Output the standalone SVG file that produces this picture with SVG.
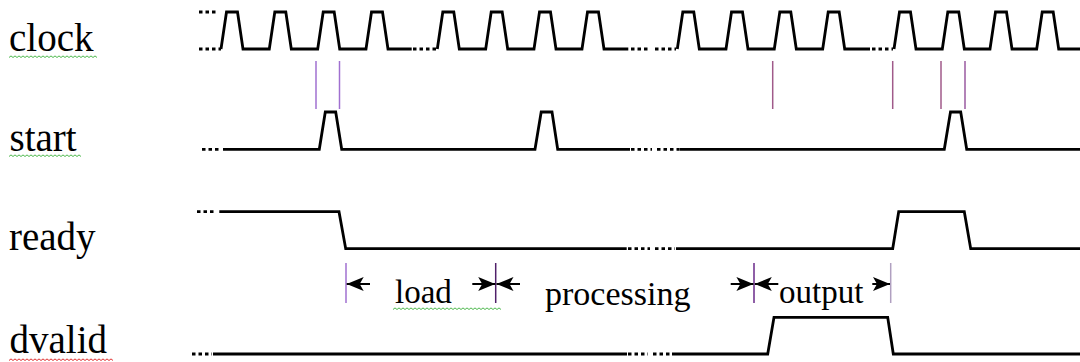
<svg xmlns="http://www.w3.org/2000/svg" width="1080" height="362" viewBox="0 0 1080 362">
<style>
.sig{fill:none;stroke:#000;stroke-width:2.8;stroke-linejoin:miter}
.dots{fill:none;stroke:#000;stroke-width:2.8;stroke-dasharray:3.5 3}
.lbl{font-family:"Liberation Serif","Times New Roman",serif;font-size:39px;fill:#000}
.ann{font-family:"Liberation Serif","Times New Roman",serif;font-size:33px;fill:#000}
.sqg{fill:none;stroke:#4cb84c;stroke-width:1}
.sqr{fill:none;stroke:#e03030;stroke-width:1}
.tick{stroke-width:1.5}
.arr{stroke:#000;stroke-width:2;marker-end:url(#ah)}
</style>
<defs>
<marker id="ah" markerUnits="userSpaceOnUse" viewBox="-18 -8 20 16" refX="0" refY="0" markerWidth="20" markerHeight="16" orient="auto">
<path d="M0,0 L-17,-7 L-13,0 L-17,7 Z" fill="#000"/>
</marker>
</defs>
<rect width="1080" height="362" fill="#fff"/>

<g id="labels">
<text class="lbl" x="9" y="50.7">clock</text>
<text class="lbl" x="9.5" y="150.7">start</text>
<text class="lbl" x="9" y="250">ready</text>
<text class="lbl" x="9.5" y="353">dvalid</text>
<path class="sqg" d="M9,57.5 l2,-1.6 2,1.6 2,-1.6 2,1.6 2,-1.6 2,1.6 2,-1.6 2,1.6 2,-1.6 2,1.6 2,-1.6 2,1.6 2,-1.6 2,1.6 2,-1.6 2,1.6 2,-1.6 2,1.6 2,-1.6 2,1.6 2,-1.6 2,1.6 2,-1.6 2,1.6 2,-1.6 2,1.6 2,-1.6 2,1.6 2,-1.6 2,1.6 2,-1.6 2,1.6 2,-1.6 2,1.6 2,-1.6 2,1.6 2,-1.6 2,1.6 2,-1.6 2,1.6 2,-1.6 2,1.6 2,-1.6 2,1.6"/>
<path class="sqg" d="M9,156.5 l2,-1.6 2,1.6 2,-1.6 2,1.6 2,-1.6 2,1.6 2,-1.6 2,1.6 2,-1.6 2,1.6 2,-1.6 2,1.6 2,-1.6 2,1.6 2,-1.6 2,1.6 2,-1.6 2,1.6 2,-1.6 2,1.6 2,-1.6 2,1.6 2,-1.6 2,1.6 2,-1.6 2,1.6 2,-1.6 2,1.6 2,-1.6 2,1.6 2,-1.6 2,1.6 2,-1.6 2,1.6 2,-1.6 2,1.6"/>
<path class="sqr" d="M9,360.5 l2,-1.6 2,1.6 2,-1.6 2,1.6 2,-1.6 2,1.6 2,-1.6 2,1.6 2,-1.6 2,1.6 2,-1.6 2,1.6 2,-1.6 2,1.6 2,-1.6 2,1.6 2,-1.6 2,1.6 2,-1.6 2,1.6 2,-1.6 2,1.6 2,-1.6 2,1.6 2,-1.6 2,1.6 2,-1.6 2,1.6 2,-1.6 2,1.6 2,-1.6 2,1.6 2,-1.6 2,1.6 2,-1.6 2,1.6 2,-1.6 2,1.6 2,-1.6 2,1.6 2,-1.6 2,1.6 2,-1.6 2,1.6 2,-1.6 2,1.6 2,-1.6 2,1.6 2,-1.6 2,1.6 2,-1.6 2,1.6"/>
</g>

<g id="clock">
<path class="dots" d="M199,12 H218 M199,49 H221 M413,49 H436 M631,49 H650 M655,49 H676 M872,49 H893"/>
<path class="sig" d="M221,49 L226.5,12 L237.5,12 L243,49 L269.3,49 L274.8,12 L285.8,12 L291.3,49 L317.7,49 L323.2,12 L334.2,12 L339.7,49 L366,49 L371.5,12 L382.5,12 L388,49 L411.7,49"/>
<path class="sig" d="M437.3,49 L442.8,12 L453.8,12 L459.3,49 L485.7,49 L491.2,12 L502.2,12 L507.7,49 L534,49 L539.5,12 L550.5,12 L556,49 L582,49 L587.5,12 L598.5,12 L604,49 L628.3,49"/>
<path class="sig" d="M677.3,49 L682.8,12 L693.8,12 L699.3,49 L726,49 L731.5,12 L742.5,12 L748,49 L774.3,49 L779.8,12 L790.8,12 L796.3,49 L822.7,49 L828.2,12 L839.2,12 L844.7,49 L870,49"/>
<path class="sig" d="M894,49 L899.5,12 L910.5,12 L916,49 L942.3,49 L947.8,12 L958.8,12 L964.3,49 L990,49 L995.5,12 L1006.5,12 L1012,49 L1036.7,49 L1042.2,12 L1053.2,12 L1058.7,49 L1080,49"/>
</g>

<g id="clock-marks">
<line class="tick" x1="316" y1="61" x2="316" y2="109" stroke="#a070d0"/>
<line class="tick" x1="339.5" y1="61" x2="339.5" y2="109" stroke="#a070d0"/>
<line class="tick" x1="772.7" y1="61" x2="772.7" y2="109" stroke="#a05a8a"/>
<line class="tick" x1="892.7" y1="61" x2="892.7" y2="109" stroke="#a05a8a"/>
<line class="tick" x1="941" y1="61" x2="941" y2="109" stroke="#a05a8a"/>
<line class="tick" x1="965" y1="61" x2="965" y2="109" stroke="#9a5aa0"/>
</g>

<g id="start">
<path class="dots" d="M202,149.3 H221 M631,149.3 H652 M657,149.3 H679"/>
<path class="sig" d="M223,149.3 L319.3,149.3 L325.3,112 L335.7,112 L341.7,149.3 L535,149.3 L541.2,112 L552,112 L557.7,149.3 L630,149.3"/>
<path class="sig" d="M679.3,149.3 L944.3,149.3 L950.5,112 L960.7,112 L966.7,149.3 L1080,149.3"/>
</g>

<g id="ready">
<path class="dots" d="M197,211.7 H216 M628,248.7 H650 M655,248.7 H675"/>
<path class="sig" d="M219.3,211.7 L339,211.7 L345.7,248.7 L626.7,248.7"/>
<path class="sig" d="M676,248.7 L892.7,248.7 L898.7,211.7 L964.3,211.7 L970.7,248.7 L1080,248.7"/>
</g>

<g id="dvalid">
<path class="dots" d="M192,354 H212 M628,354 H648 M653,354 H671"/>
<path class="sig" d="M213,354 L627,354"/>
<path class="sig" d="M672,354 L767.7,354 L774,317.3 L887.7,317.3 L893.3,354 L1080,354"/>
</g>

<g id="connectors">
<line class="tick" x1="346" y1="263" x2="346" y2="303" stroke="#a070d0"/>
<line class="tick" x1="495.7" y1="263" x2="495.7" y2="303" stroke="#50206a"/>
<line class="tick" x1="754" y1="263" x2="754" y2="303" stroke="#6a2a8a"/>
<line class="tick" x1="890.7" y1="263" x2="890.7" y2="303" stroke="#b0a0c0"/>
<line class="arr" x1="370" y1="284" x2="346.7" y2="284"/>
<line class="arr" x1="472.3" y1="284" x2="495.2" y2="284"/>
<line class="arr" x1="520" y1="284" x2="496.5" y2="284"/>
<line class="arr" x1="730.7" y1="284" x2="753.4" y2="284"/>
<line class="arr" x1="778.3" y1="284" x2="754.8" y2="284"/>
<line class="arr" x1="872.3" y1="284" x2="890" y2="284"/>
</g>

<g id="annotations">
<text class="ann" x="395" y="303">load</text>
<path class="sqg" d="M393,309.5 l2,-1.6 2,1.6 2,-1.6 2,1.6 2,-1.6 2,1.6 2,-1.6 2,1.6 2,-1.6 2,1.6 2,-1.6 2,1.6 2,-1.6 2,1.6 2,-1.6 2,1.6 2,-1.6 2,1.6 2,-1.6 2,1.6 2,-1.6 2,1.6 2,-1.6 2,1.6 2,-1.6 2,1.6 2,-1.6 2,1.6 2,-1.6 2,1.6 2,-1.6 2,1.6 2,-1.6 2,1.6 2,-1.6 2,1.6 2,-1.6 2,1.6 2,-1.6 2,1.6 2,-1.6 2,1.6 2,-1.6 2,1.6 2,-1.6 2,1.6 2,-1.6 2,1.6 2,-1.6 2,1.6 2,-1.6 2,1.6 2,-1.6 2,1.6"/>
<text class="ann" x="545" y="304.5" style="font-size:34px">processing</text>
<text class="ann" x="779" y="303">output</text>
</g>
</svg>
